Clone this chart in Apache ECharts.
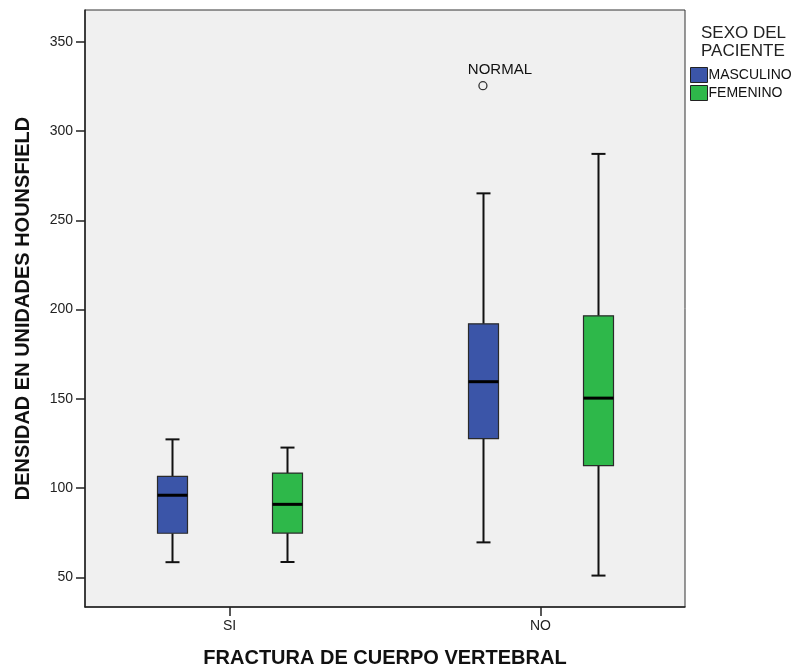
<!DOCTYPE html>
<html>
<head>
<meta charset="utf-8">
<script src="https://cdn.jsdelivr.net/npm/echarts@6/dist/echarts.min.js"></script>
<style>html,body{margin:0;padding:0;background:#fff;}#c{width:796px;height:667px;}</style>
</head>
<body>
<div id="c"></div>
<script>
// ---- data ----
var categories = ['SI', 'NO'];
// [min, Q1, median, Q3, max]
var masculino = [[58.5, 74.7, 96.0, 106.6, 127.3], [69.6, 127.7, 159.6, 192.0, 265.1]];
var femenino = [[58.6, 74.8, 90.9, 108.4, 122.7], [51.0, 112.6, 150.4, 196.5, 287.2]];
// outliers: [category index, group index (0 = masculino, 1 = femenino), value, label]
var outliers = [[1, 0, 325.4, 'NORMAL']];
var yTicks = [50, 100, 150, 200, 250, 300, 350];
var seriesNames = ['MASCULINO', 'FEMENINO'];

// ---- styles ----
var FONT = '"Liberation Sans", Arial, sans-serif';
var colors = ['#3b55a8', '#2eb84a'];
var groupOffsets = [-0.185, 0.185];
var BOX_W = 30, CAP_W = 14;

function boxRender(offset, color) {
  return function (params, api) {
    var x = api.value(0) + offset;
    var lo = api.coord([x, api.value(1)]);
    var q1 = api.coord([x, api.value(2)]);
    var med = api.coord([x, api.value(3)]);
    var q3 = api.coord([x, api.value(4)]);
    var hi = api.coord([x, api.value(5)]);
    var cx = Math.round(lo[0]) + 0.5;
    var lineStyle = { stroke: '#111', lineWidth: 2 };
    return {
      type: 'group',
      children: [
        { type: 'line', shape: { x1: cx, y1: lo[1], x2: cx, y2: q1[1] }, style: lineStyle },
        { type: 'line', shape: { x1: cx, y1: q3[1], x2: cx, y2: hi[1] }, style: lineStyle },
        { type: 'line', shape: { x1: cx - CAP_W / 2, y1: lo[1], x2: cx + CAP_W / 2, y2: lo[1] }, style: lineStyle },
        { type: 'line', shape: { x1: cx - CAP_W / 2, y1: hi[1], x2: cx + CAP_W / 2, y2: hi[1] }, style: lineStyle },
        { type: 'rect', shape: { x: cx - BOX_W / 2, y: q3[1], width: BOX_W, height: q1[1] - q3[1] },
          style: { fill: color, stroke: '#2a2a2a', lineWidth: 1.2 } },
        { type: 'line', shape: { x1: cx - BOX_W / 2, y1: med[1], x2: cx + BOX_W / 2, y2: med[1] },
          style: { stroke: '#000', lineWidth: 3 } }
      ]
    };
  };
}

function outlierRender(params, api) {
  var x = api.value(0) + groupOffsets[api.value(1)];
  var p = api.coord([x, api.value(2)]);
  return {
    type: 'group',
    children: [
      { type: 'circle', shape: { cx: p[0], cy: p[1], r: 4 }, style: { fill: 'none', stroke: '#333', lineWidth: 1.3 } },
      { type: 'text', x: p[0] + 17, y: p[1] - 16,
        style: { text: outliers[params.dataIndex][3], font: '15px ' + FONT, fill: '#111', align: 'center', verticalAlign: 'middle' } }
    ]
  };
}

var chart = echarts.init(document.getElementById('c'), null, { renderer: 'canvas' });
var option = {
  animation: false,
  backgroundColor: '#fff',
  textStyle: { fontFamily: FONT },
  title: {
    text: 'SEXO DEL\nPACIENTE',
    left: 696, top: 19,
    textStyle: { fontFamily: FONT, fontSize: 17, fontWeight: 'normal', color: '#222', lineHeight: 18 }
  },
  legend: {
    data: seriesNames,
    orient: 'vertical',
    left: 690, top: 67,
    padding: 0,
    itemWidth: 17, itemHeight: 15, itemGap: 2,
    icon: 'rect',
    itemStyle: { borderColor: '#222', borderWidth: 1 },
    textStyle: { fontFamily: FONT, fontSize: 14, color: '#111', padding: [0, 0, 0, -4] }
  },
  grid: {
    left: 85, top: 10, right: 111, bottom: 60,
    outerBoundsMode: 'none',
    containLabel: false,
    show: true, backgroundColor: '#f0f0f0', borderColor: '#333', borderWidth: 1
  },
  xAxis: {
    type: 'value',
    min: -0.465, max: 1.465,
    splitLine: { show: false },
    axisLine: { show: true, onZero: false, lineStyle: { color: '#222', width: 1.5 } },
    axisTick: { show: true, length: 9, customValues: categories.map(function (c, i) { return i; }), lineStyle: { color: '#222', width: 1.5 } },
    axisLabel: {
      customValues: categories.map(function (c, i) { return i; }),
      formatter: function (v) { return categories[Math.round(v)]; },
      margin: 12, fontSize: 14, color: '#222', fontFamily: FONT
    },
    name: 'FRACTURA DE CUERPO VERTEBRAL',
    nameLocation: 'middle',
    nameGap: 41,
    nameTextStyle: { fontFamily: FONT, fontSize: 20, fontWeight: 'bold', color: '#111' }
  },
  yAxis: {
    type: 'value',
    min: 33.4, max: 367.8,
    splitLine: { show: false },
    axisLine: { show: true, onZero: false, lineStyle: { color: '#222', width: 1.5 } },
    axisTick: { show: true, length: 9, customValues: yTicks, lineStyle: { color: '#222', width: 1.5 } },
    axisLabel: { customValues: yTicks, margin: 12, fontSize: 14, color: '#222', fontFamily: FONT },
    name: 'DENSIDAD EN UNIDADES HOUNSFIELD',
    nameLocation: 'middle',
    nameGap: 52,
    nameTextStyle: { fontFamily: FONT, fontSize: 20, fontWeight: 'bold', color: '#111' }
  },
  series: [
    {
      name: seriesNames[0], type: 'custom',
      itemStyle: { color: colors[0] },
      renderItem: boxRender(groupOffsets[0], colors[0]),
      encode: { x: 0, y: [1, 2, 3, 4, 5] },
      data: masculino.map(function (d, i) { return [i].concat(d); })
    },
    {
      name: seriesNames[1], type: 'custom',
      itemStyle: { color: colors[1] },
      renderItem: boxRender(groupOffsets[1], colors[1]),
      encode: { x: 0, y: [1, 2, 3, 4, 5] },
      data: femenino.map(function (d, i) { return [i].concat(d); })
    },
    {
      name: 'outliers', type: 'custom',
      renderItem: outlierRender,
      encode: { x: 0, y: 2 },
      data: outliers.map(function (o) { return [o[0], o[1], o[2]]; })
    }
  ]
};
chart.setOption(option);
</script>
</body>
</html>
